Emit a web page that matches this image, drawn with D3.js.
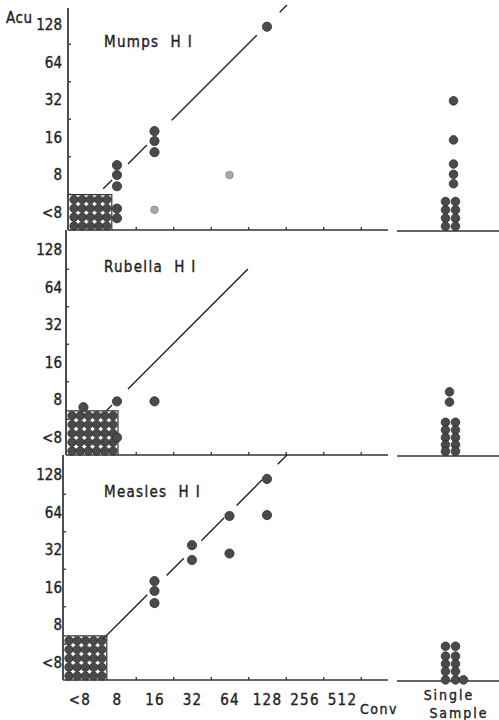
<!DOCTYPE html>
<html>
<head>
<meta charset="utf-8">
<script src="https://cdn.jsdelivr.net/npm/d3@7/dist/d3.min.js"></script>
<style>
body { margin: 0; background: #fff; }
text { font-family: "Liberation Sans Narrow", "DejaVu Sans Condensed", sans-serif; fill: #222; stroke: #222; stroke-width: 0.35px; }
</style>
</head>
<body>
<div id="chart"></div>
<script>
// tick labels (titers, "<8" drawn at one step below 8)
var xTickValues = [4, 8, 16, 32, 64, 128, 256, 512];
var xTickLabels = ["<8", "8", "16", "32", "64", "128", "256", "512"];
var yTickValues = [4, 8, 16, 32, 64, 128];
var yTickLabels = ["<8", "8", "16", "32", "64", "128"];

var panelNames = ["Mumps  H I", "Rubella  H I", "Measles  H I"];

// block of <8 / <8 sera (columns x rows)
var blockCols = [5, 6, 5];
var blockRows = [4, 5, 5];

// conv titer, acu titer
var mumpsPoints = [[8, 9.6], [8, 8], [8, 6.5], [8, 4.3], [8, 3.6], [16, 18], [16, 15], [16, 12.2], [128, 124]];
var mumpsFaint = [[16, 4.2], [64, 8]];
var rubellaPoints = [[4.3, 7], [8, 7.8], [16, 7.8], [8, 4]];
var rubellaFaint = [];
var measlesPoints = [[16, 18], [16, 15], [16, 12], [32, 35], [32, 26.6], [64, 60], [64, 30], [128, 119], [128, 61]];
var measlesFaint = [];

// single sample: column, acu titer
var mumpsSingle = [[0.8, 31.5], [0.8, 15.3], [0.8, 9.8], [0.8, 8.1], [0.8, 6.8],
  [0, 4.9], [1, 4.9], [0, 4.2], [1, 4.2], [0, 3.6], [1, 3.6], [0, 3.1], [1, 3.1]];
var rubellaSingle = [[0.4, 9.3], [0.4, 7.7],
  [0, 5.3], [1, 5.3], [0, 4.6], [1, 4.6], [0, 4.0], [1, 4.0], [0, 3.5], [1, 3.5], [0, 3.1], [1, 3.1]];
var measlesSingle = [[0, 5.4], [1, 5.4], [0, 4.5], [1, 4.5], [0, 3.9], [1, 3.9], [0, 3.4], [1, 3.4], [0, 2.9], [1, 2.9], [1.8, 2.9]];

// pieces of the identity line (conv titer from, to)
var mumpsLine = [[6.2, 7.3], [9.8, 13.9], [22, 106], [162, 185]];
var rubellaLine = [[6.6, 7.3], [9.8, 90]];
var measlesLine = [[6.2, 14], [20, 27.5], [38, 58], [73, 117], [156, 185]];

var panels = [
  {name: panelNames[0], cols: blockCols[0], rows: blockRows[0], pts: mumpsPoints, faint: mumpsFaint, single: mumpsSingle, line: mumpsLine},
  {name: panelNames[1], cols: blockCols[1], rows: blockRows[1], pts: rubellaPoints, faint: rubellaFaint, single: rubellaSingle, line: rubellaLine},
  {name: panelNames[2], cols: blockCols[2], rows: blockRows[2], pts: measlesPoints, faint: measlesFaint, single: measlesSingle, line: measlesLine}
];

var width = 499, height = 720;
var axisY = [230, 455, 680];
var axisX = [68, 66, 63];
var axisTop = [8, 230, 455];

var svg = d3.select("#chart").append("svg")
  .attr("width", width).attr("height", height);

var x = d3.scaleLog().base(2).domain([4, 512]).range([79.5, 342]);
var sx = d3.scaleLinear().domain([0, 1]).range([445.5, 455.5]);
var minor = [8, 16, 32, 64, 128, 256, 512].map(function(d){ return d * Math.SQRT2; });
var yMinor = [4, 8, 16, 32, 64].map(function(d){ return d * Math.SQRT2; });

var dotFill = "#4a4a4a", dotStroke = "#2e2e2e";

panels.forEach(function(p, i) {
  var ay = axisY[i], ax = axisX[i];
  var y = d3.scaleLog().base(2).domain([4, 128]).range([ay - 17.5, ay - 205]);
  var g = svg.append("g");

  // axis lines
  g.append("line").attr("x1", ax).attr("x2", ax).attr("y1", axisTop[i]).attr("y2", ay)
    .attr("stroke", "#222").attr("stroke-width", 1.6);
  g.append("line").attr("x1", ax).attr("x2", 388).attr("y1", ay).attr("y2", ay)
    .attr("stroke", "#333").attr("stroke-width", 1.6);
  g.append("line").attr("x1", 397).attr("x2", 499).attr("y1", ay + 1).attr("y2", ay + 1)
    .attr("stroke", "#333").attr("stroke-width", 1.6);

  // minor ticks pointing inward
  g.append("g").attr("transform", "translate(0," + ay + ")")
    .call(d3.axisBottom(x).tickValues(minor).tickSize(-3).tickFormat(""))
    .call(function(s){ s.select(".domain").remove(); s.selectAll("line").attr("stroke", "#333").attr("stroke-width", 1.3); });
  g.append("g").attr("transform", "translate(" + ax + ",0)")
    .call(d3.axisLeft(y).tickValues(yMinor).tickSize(-3).tickFormat(""))
    .call(function(s){ s.select(".domain").remove(); s.selectAll("line").attr("stroke", "#333").attr("stroke-width", 1.3); });

  // y labels
  g.append("g").attr("transform", "translate(" + ax + ",0)")
    .call(d3.axisLeft(y).tickValues(yTickValues).tickSize(0).tickPadding(ax - 62)
      .tickFormat(function(d, k){ return yTickLabels[k]; }))
    .call(function(s){
      s.select(".domain").remove();
      s.selectAll("text").style("font-size", "15px")
        .style("font-family", null).attr("fill", "#222");
    });

  // panel title
  g.append("text").attr("x", 104).attr("y", ay - 183)
    .style("font-size", "15px").style("letter-spacing", "1.3px").style("white-space", "pre")
    .text(p.name);

  // <8 block with outline
  var sp = 8.2, spy = 8.8;
  var cells = d3.range(p.cols * p.rows).map(function(k){ return {c: k % p.cols, r: Math.floor(k / p.cols)}; });
  var bx0 = ax + 6, by0 = ay - 4;
  var right = bx0 + (p.cols - 1) * sp + 5, top = by0 - (p.rows - 1) * spy - 5;
  g.append("path")
    .attr("d", "M" + ax + "," + top + "H" + right + "V" + ay)
    .attr("fill", "none").attr("stroke", "#333").attr("stroke-width", 1.2);
  g.selectAll(".blk").data(cells).enter().append("circle")
    .attr("cx", function(d){ return bx0 + d.c * sp; })
    .attr("cy", function(d){ return by0 - d.r * spy; })
    .attr("r", 4.2).attr("fill", dotFill).attr("stroke", dotStroke).attr("stroke-width", 0.8);

  // identity line pieces
  g.selectAll(".diag").data(p.line).enter().append("line")
    .attr("x1", function(d){ return x(d[0]); }).attr("y1", function(d){ return y(d[0]); })
    .attr("x2", function(d){ return x(d[1]); }).attr("y2", function(d){ return y(d[1]); })
    .attr("stroke", "#222").attr("stroke-width", 1.4);

  // points
  g.selectAll(".pt").data(p.pts).enter().append("circle")
    .attr("cx", function(d){ return x(d[0]); }).attr("cy", function(d){ return y(d[1]); })
    .attr("r", 4.6).attr("fill", dotFill).attr("stroke", dotStroke).attr("stroke-width", 0.8);
  g.selectAll(".fp").data(p.faint).enter().append("circle")
    .attr("cx", function(d){ return x(d[0]); }).attr("cy", function(d){ return y(d[1]); })
    .attr("r", 3.8).attr("fill", "#a8a8a8").attr("stroke", "#888").attr("stroke-width", 0.8);

  // single sample
  g.selectAll(".ss").data(p.single).enter().append("circle")
    .attr("cx", function(d){ return sx(d[0]); }).attr("cy", function(d){ return y(d[1]); })
    .attr("r", 4.3).attr("fill", dotFill).attr("stroke", dotStroke).attr("stroke-width", 0.8);
});

// x labels below the last panel
var yb = axisY[2];
svg.append("g").attr("transform", "translate(0," + yb + ")")
  .call(d3.axisBottom(x).tickValues(xTickValues).tickSize(0).tickPadding(14)
    .tickFormat(function(d, k){ return xTickLabels[k]; }))
  .call(function(s){
    s.select(".domain").remove();
    s.selectAll("text").style("font-size", "15px").style("letter-spacing", "1.2px")
      .style("font-family", null).attr("fill", "#222");
  });

svg.append("text").attr("x", 6).attr("y", 23).style("font-size", "15px").style("letter-spacing", "0.5px").text("Acu");
svg.append("text").attr("x", 360).attr("y", 714).style("font-size", "14px").style("letter-spacing", "1.5px").text("Conv");
svg.append("text").attr("x", 449).attr("y", 700).attr("text-anchor", "middle").style("font-size", "14px").style("letter-spacing", "2px").text("Single");
svg.append("text").attr("x", 459).attr("y", 718).attr("text-anchor", "middle").style("font-size", "14px").style("letter-spacing", "2px").text("Sample");
</script>
</body>
</html>
